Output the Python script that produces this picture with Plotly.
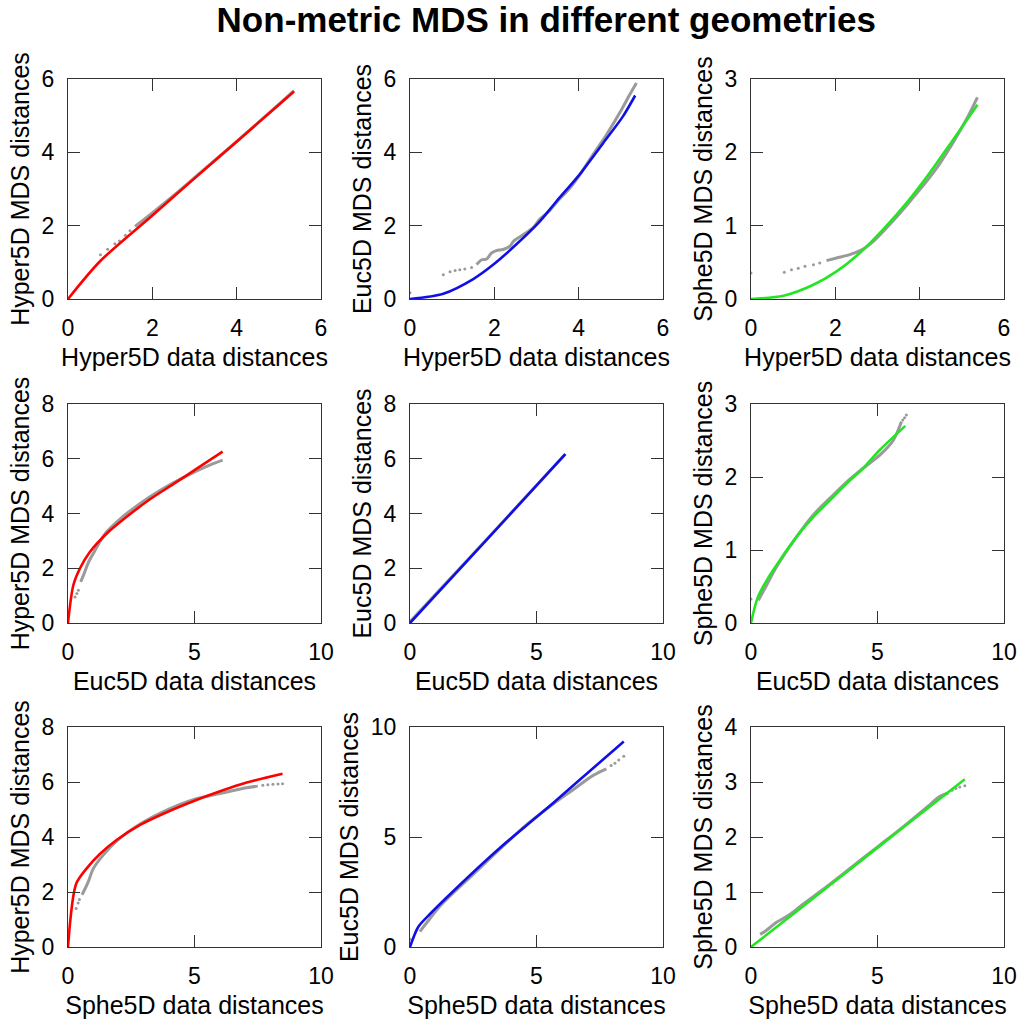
import plotly.graph_objects as go
from plotly.subplots import make_subplots

# row 1: Hyper5D data distances on x
hh_fit_x = [0, 0.76, 2, 3, 4, 5, 5.36]
hh_fit_y = [0, 1.03, 2.28, 3.29, 4.29, 5.30, 5.66]
hh_dot_x = [0.77, 0.94, 1.11, 1.22, 1.36, 1.47]
hh_dot_y = [1.21, 1.36, 1.51, 1.58, 1.74, 1.86]
hh_band_x = [1.59, 2.0, 2.5, 3.0, 4.0, 5.0, 5.36]
hh_band_y = [1.98, 2.35, 2.82, 3.31, 4.30, 5.31, 5.68]

he_fit_x = [0, 0.79, 1.5, 2.0, 2.53, 3.08, 3.47, 3.99, 4.58, 5.05, 5.34]
he_fit_y = [0, 0.145, 0.545, 0.96, 1.5, 2.12, 2.66, 3.35, 4.25, 4.98, 5.55]
he_dot_x = [0, 0.79, 0.95, 1.07, 1.18, 1.30, 1.46]
he_dot_y = [0.17, 0.66, 0.74, 0.78, 0.80, 0.82, 0.86]
he_band_x = [1.58, 1.7, 1.82, 1.93, 2.05, 2.21, 2.37, 2.45, 2.53, 2.72, 2.92, 3.08, 3.28, 3.51,
             3.79, 4.03, 4.34, 4.66, 4.97, 5.21, 5.37]
he_band_y = [0.94, 1.07, 1.09, 1.25, 1.32, 1.35, 1.44, 1.57, 1.64, 1.78, 1.95, 2.18, 2.38, 2.68,
             3.02, 3.39, 3.94, 4.48, 5.07, 5.57, 5.89]

hs_fit_x = [0, 0.77, 1.48, 2.03, 2.58, 3.13, 3.69, 4.24, 4.79, 5.37]
hs_fit_y = [0, 0.045, 0.195, 0.377, 0.627, 0.945, 1.31, 1.72, 2.17, 2.65]
hs_dot_x = [0, 0.79, 0.96, 1.12, 1.28, 1.48, 1.63]
hs_dot_y = [0.355, 0.364, 0.40, 0.42, 0.445, 0.468, 0.49]
hs_band_x = [1.79, 2.03, 2.34, 2.66, 2.9, 3.21, 3.53, 3.84, 4.16, 4.48, 4.79, 5.11, 5.37]
hs_band_y = [0.523, 0.56, 0.605, 0.68, 0.786, 0.968, 1.17, 1.38, 1.6, 1.85, 2.13, 2.45, 2.75]

# row 2: Euc5D data distances on x
eh_fit_x = [0, 0.21, 0.47, 0.87, 1.53, 2.32, 3.24, 4.16, 5.09, 6.11]
eh_fit_y = [0, 1.38, 1.99, 2.6, 3.27, 3.88, 4.52, 5.07, 5.64, 6.26]
eh_dot_x = [0.28, 0.35, 0.41]
eh_dot_y = [0.95, 1.08, 1.2]
eh_band_x = [0.5, 0.61, 0.8, 1.0, 1.25, 1.53, 2.0, 2.32, 3.24, 4.16, 5.09, 5.6, 6.11]
eh_band_y = [1.5, 1.74, 2.2, 2.54, 2.95, 3.33, 3.75, 4.0, 4.61, 5.12, 5.56, 5.77, 5.95]

ee_fit_x = [0, 3, 6.14]
ee_fit_y = [0, 3.01, 6.17]
ee_dot_x = [0.05]
ee_dot_y = [0.08]
ee_band_x = [0, 3, 6.14]
ee_band_y = [0.05, 3.02, 6.17]

es_fit_x = [0, 0.25, 0.62, 1.14, 1.8, 2.46, 3.12, 3.78, 4.43, 5.09, 6.1]
es_fit_y = [0, 0.334, 0.585, 0.86, 1.18, 1.45, 1.68, 1.91, 2.12, 2.37, 2.7]
es_dot_x = [0, 6.0, 6.07, 6.14]
es_dot_y = [0.33, 2.78, 2.81, 2.85]
es_band_x = [0.29, 0.62, 1.01, 1.8, 2.46, 3.12, 3.78, 4.43, 5.09, 5.62, 5.95]
es_band_y = [0.31, 0.52, 0.77, 1.18, 1.48, 1.71, 1.93, 2.12, 2.3, 2.5, 2.76]

# row 3: Sphe5D data distances on x
sh_fit_x = [0, 0.32, 0.74, 1.26, 1.92, 2.85, 3.9, 4.95, 6.01, 7.06, 8.48]
sh_fit_y = [0, 2.29, 2.86, 3.38, 3.89, 4.44, 4.90, 5.30, 5.66, 5.98, 6.30]
sh_dot_x = [0.32, 0.4, 0.45, 7.7, 7.9, 8.1, 8.3, 8.48]
sh_dot_y = [1.4, 1.6, 1.73, 5.88, 5.9, 5.92, 5.93, 5.94]
sh_band_x = [0.55, 0.61, 0.8, 1.0, 1.4, 1.92, 2.85, 3.9, 4.95, 6.01, 7.06, 7.5]
sh_band_y = [1.9, 2.0, 2.37, 2.85, 3.35, 3.85, 4.47, 4.98, 5.36, 5.58, 5.79, 5.85]

se_fit_x = [0, 0.33, 0.79, 1.45, 2.5, 3.55, 4.6, 5.66, 6.71, 8.45]
se_fit_y = [0, 0.92, 1.5, 2.25, 3.4, 4.5, 5.52, 6.55, 7.6, 9.34]
se_dot_x = [0, 7.95, 8.1, 8.25, 8.45]
se_dot_y = [0.35, 8.25, 8.35, 8.5, 8.67]
se_band_x = [0.39, 0.66, 1.18, 1.84, 2.5, 3.55, 4.6, 5.66, 6.45, 7.24, 7.76]
se_band_y = [0.7, 1.1, 1.85, 2.6, 3.3, 4.45, 5.55, 6.5, 7.15, 7.8, 8.1]

ss_fit_x = [0, 2, 4, 6, 8.45]
ss_fit_y = [0, 0.72, 1.44, 2.17, 3.05]
ss_dot_x = [7.95, 8.1, 8.25, 8.45]
ss_dot_y = [2.85, 2.88, 2.91, 2.93]
ss_band_x = [0.36, 0.6, 1.01, 1.5, 2, 3, 4, 5, 6, 7, 7.4, 7.8]
ss_band_y = [0.23, 0.3, 0.45, 0.58, 0.76, 1.1, 1.46, 1.82, 2.18, 2.56, 2.72, 2.8]

x_titles = ["Hyper5D data distances", "Euc5D data distances", "Sphe5D data distances"]
y_titles = ["Hyper5D MDS distances", "Euc5D MDS distances", "Sphe5D MDS distances"]
fit_colors = ["#ff0000", "#1010e6", "#22e622"]

panels = [
    [(hh_fit_x, hh_fit_y, hh_dot_x, hh_dot_y, hh_band_x, hh_band_y),
     (he_fit_x, he_fit_y, he_dot_x, he_dot_y, he_band_x, he_band_y),
     (hs_fit_x, hs_fit_y, hs_dot_x, hs_dot_y, hs_band_x, hs_band_y)],
    [(eh_fit_x, eh_fit_y, eh_dot_x, eh_dot_y, eh_band_x, eh_band_y),
     (ee_fit_x, ee_fit_y, ee_dot_x, ee_dot_y, ee_band_x, ee_band_y),
     (es_fit_x, es_fit_y, es_dot_x, es_dot_y, es_band_x, es_band_y)],
    [(sh_fit_x, sh_fit_y, sh_dot_x, sh_dot_y, sh_band_x, sh_band_y),
     (se_fit_x, se_fit_y, se_dot_x, se_dot_y, se_band_x, se_band_y),
     (ss_fit_x, ss_fit_y, ss_dot_x, ss_dot_y, ss_band_x, ss_band_y)],
]

x_ranges = [[0, 6], [0, 10], [0, 10]]
x_dticks = [2, 5, 5]
y_ranges = [[[0, 6], [0, 6], [0, 3]], [[0, 8], [0, 8], [0, 3]], [[0, 8], [0, 10], [0, 4]]]
y_dticks = [[2, 2, 1], [2, 2, 1], [2, 5, 1]]

W, H = 1021, 1024
col_px = [(68, 321), (410, 663), (751, 1004)]
row_px = [(79, 299), (404, 623), (727, 947)]

fig = make_subplots(rows=3, cols=3)
font = "Liberation Sans, Arial, sans-serif"

for r in range(3):
    for c in range(3):
        fx, fy, dx, dy, bx, by = panels[r][c]
        fig.add_trace(go.Scatter(x=bx, y=by, mode="lines",
                                 line=dict(color="#9a9a9a", width=3, shape="spline", smoothing=0.8),
                                 showlegend=False, hoverinfo="skip"), row=r + 1, col=c + 1)
        fig.add_trace(go.Scatter(x=dx, y=dy, mode="markers", marker=dict(color="#9a9a9a", size=3),
                                 showlegend=False), row=r + 1, col=c + 1)
        fig.add_trace(go.Scatter(x=fx, y=fy, mode="lines",
                                 line=dict(color=fit_colors[c], width=2.6, shape="spline", smoothing=0.8),
                                 showlegend=False), row=r + 1, col=c + 1)
        common = dict(showline=True, linecolor="#333333", linewidth=1.2, mirror="ticks",
                      ticks="inside", ticklen=12, tickcolor="#333333", tickwidth=1.2,
                      showgrid=False, zeroline=False, automargin=False,
                      tickfont=dict(size=23, color="black"))
        fig.update_xaxes(common, range=x_ranges[r], dtick=x_dticks[r], tick0=0,
                         domain=[col_px[c][0] / W, col_px[c][1] / W],
                         ticklabelstandoff=8,
                         title=dict(text=x_titles[r], font=dict(size=25, color="black"), standoff=8),
                         row=r + 1, col=c + 1)
        fig.update_yaxes(common, range=y_ranges[r][c], dtick=y_dticks[r][c], tick0=0,
                         domain=[1 - row_px[r][1] / H, 1 - row_px[r][0] / H],
                         ticklabelstandoff=8,
                         title=dict(text=y_titles[c], font=dict(size=25, color="black"), standoff=4),
                         row=r + 1, col=c + 1)

fig.update_layout(
    width=W, height=H,
    margin=dict(l=0, r=0, t=0, b=0),
    paper_bgcolor="white", plot_bgcolor="white",
    font=dict(family=font, color="black"),
    title=dict(text="<b>Non-metric MDS in different geometries</b>", x=0.535, xanchor="center",
               y=1 - 20 / H, yanchor="middle", font=dict(size=35, color="black")),
)

# drop the page's default body margin so the figure sits at the window's corner
fig.write_html("out.html", config={"displayModeBar": False},
               post_script="document.body.style.margin='0';document.body.style.overflow='hidden';")
